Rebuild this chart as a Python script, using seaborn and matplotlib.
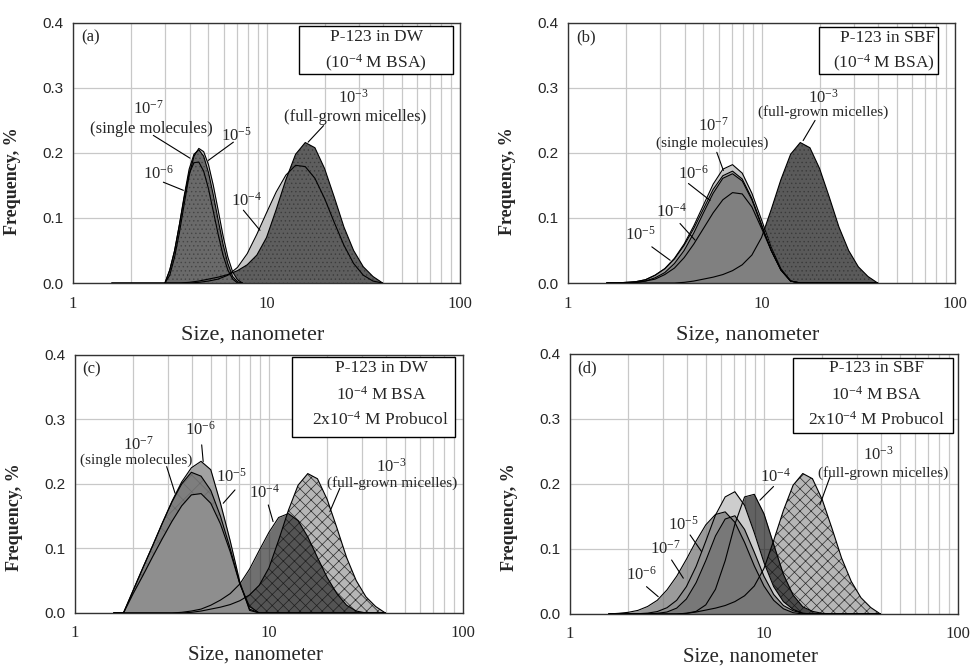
import numpy as np
import pandas as pd
import matplotlib
matplotlib.use("Agg")
import matplotlib.pyplot as plt
from matplotlib.patches import Rectangle
from matplotlib.ticker import FormatStrFormatter, LogLocator, NullFormatter
import seaborn as sns

# ---- size bins (nm) -------------------------------------------------------
sizes_fine = [2.985, 3.162, 3.350, 3.548, 3.758, 3.981, 4.217, 4.467, 4.732,
              5.012, 5.309, 5.623, 5.957, 6.310, 6.683, 7.079, 7.499]
sizes = [1.585, 1.778, 1.995, 2.239, 2.512, 2.818, 3.162, 3.548, 3.981, 4.467,
         5.012, 5.623, 6.310, 7.079, 7.943, 8.913, 10.00, 11.22, 12.59, 14.13,
         15.85, 17.78, 19.95, 22.39, 25.12, 28.18, 31.62, 35.48, 39.81]

# ---- frequency, % ---------------------------------------------------------
# 1e-3 M : full-grown micelles (same in every panel)
micelles_1e3 = [0, 0, 0, 0, 0, 0, 0, 0, 0.001, 0.003, 0.006, 0.009, 0.013, 0.019,
                0.028, 0.043, 0.070, 0.113, 0.159, 0.198, 0.216, 0.208, 0.176,
                0.132, 0.086, 0.050, 0.025, 0.010, 0]

# (a) P-123 in DW, 1e-4 M BSA
a_1e7 = [0, 0.020, 0.050, 0.090, 0.135, 0.175, 0.198, 0.205, 0.195, 0.170,
         0.135, 0.097, 0.060, 0.030, 0.010, 0.002, 0]
a_1e6 = [0, 0.020, 0.050, 0.090, 0.132, 0.168, 0.185, 0.186, 0.172, 0.145,
         0.110, 0.075, 0.043, 0.020, 0.006, 0, 0]
a_1e5 = [0, 0.012, 0.040, 0.078, 0.122, 0.165, 0.195, 0.207, 0.202, 0.182,
         0.150, 0.112, 0.073, 0.040, 0.017, 0.005, 0]
a_1e4 = [0, 0, 0, 0, 0, 0, 0, 0, 0, 0.001, 0.003, 0.006, 0.012, 0.024, 0.045,
         0.075, 0.108, 0.140, 0.166, 0.181, 0.179, 0.161, 0.130, 0.093, 0.058,
         0.030, 0.012, 0.003, 0]

# (b) P-123 in SBF, 1e-4 M BSA
b_1e7 = [0, 0, 0.001, 0.002, 0.005, 0.012, 0.022, 0.038, 0.060, 0.088, 0.120,
         0.152, 0.175, 0.182, 0.169, 0.138, 0.097, 0.055, 0.022, 0.003, 0,
         0, 0, 0, 0, 0, 0, 0, 0]
b_1e6 = [0, 0, 0, 0.001, 0.003, 0.008, 0.016, 0.030, 0.050, 0.077, 0.108,
         0.138, 0.161, 0.168, 0.157, 0.128, 0.088, 0.050, 0.020, 0.003, 0,
         0, 0, 0, 0, 0, 0, 0, 0]
b_1e5 = [0, 0, 0.001, 0.002, 0.005, 0.012, 0.022, 0.037, 0.058, 0.084, 0.114,
         0.144, 0.165, 0.172, 0.160, 0.130, 0.090, 0.050, 0.020, 0.003, 0,
         0, 0, 0, 0, 0, 0, 0, 0]
b_1e4 = [0, 0, 0.0005, 0.001, 0.003, 0.006, 0.013, 0.023, 0.039, 0.060, 0.084,
         0.108, 0.128, 0.139, 0.137, 0.117, 0.084, 0.050, 0.020, 0.003, 0,
         0, 0, 0, 0, 0, 0, 0, 0]

# (c) P-123 in DW, 1e-4 M BSA, 2x1e-4 M Probucol
c_1e7 = [0, 0, 0.035, 0.070, 0.104, 0.139, 0.172, 0.200, 0.218, 0.212, 0.190,
         0.150, 0.100, 0.045, 0.006, 0, 0, 0, 0, 0, 0, 0, 0, 0, 0, 0, 0, 0, 0]
c_1e6 = [0, 0, 0.035, 0.070, 0.104, 0.139, 0.173, 0.203, 0.225, 0.235, 0.222,
         0.170, 0.112, 0.048, 0.004, 0, 0, 0, 0, 0, 0, 0, 0, 0, 0, 0, 0, 0, 0]
c_1e5 = [0, 0, 0.030, 0.058, 0.087, 0.115, 0.142, 0.166, 0.183, 0.185, 0.170,
         0.138, 0.095, 0.045, 0.010, 0, 0, 0, 0, 0, 0, 0, 0, 0, 0, 0, 0, 0, 0]
c_1e4 = [0, 0, 0, 0, 0, 0, 0, 0.001, 0.003, 0.006, 0.012, 0.020, 0.030, 0.045,
         0.068, 0.097, 0.125, 0.148, 0.154, 0.143, 0.118, 0.086, 0.055, 0.030,
         0.012, 0.003, 0, 0, 0]

# (d) P-123 in SBF, 1e-4 M BSA, 2x1e-4 M Probucol
d_1e7 = [0, 0, 0, 0, 0.0002, 0.001, 0.003, 0.009, 0.023, 0.048, 0.082, 0.120,
         0.146, 0.151, 0.130, 0.095, 0.058, 0.030, 0.013, 0.005, 0.001,
         0, 0, 0, 0, 0, 0, 0, 0]
d_1e6 = [0, 0.001, 0.0025, 0.0055, 0.0115, 0.021, 0.037, 0.058, 0.084, 0.112,
         0.137, 0.153, 0.157, 0.141, 0.110, 0.074, 0.043, 0.021, 0.008, 0.002, 0,
         0, 0, 0, 0, 0, 0, 0, 0]
d_1e5 = [0, 0, 0.0001, 0.0004, 0.0013, 0.0037, 0.0096, 0.021, 0.042, 0.073,
         0.112, 0.152, 0.180, 0.188, 0.167, 0.125, 0.079, 0.042, 0.019, 0.007,
         0.001, 0, 0, 0, 0, 0, 0, 0, 0]
d_1e4 = [0, 0, 0, 0, 0, 0, 0, 0.0001, 0.001, 0.004, 0.014, 0.038, 0.082, 0.138,
         0.180, 0.184, 0.154, 0.107, 0.061, 0.029, 0.011, 0.004, 0.001,
         0, 0, 0, 0, 0, 0]

# ---- style ----------------------------------------------------------------
sns.set_style("white")
plt.rcParams['font.family'] = ['Liberation Serif', 'DejaVu Serif']
plt.rcParams['mathtext.fontset'] = 'custom'
plt.rcParams['mathtext.rm'] = 'Liberation Serif'
plt.rcParams['mathtext.it'] = 'Liberation Serif:italic'
plt.rcParams['mathtext.bf'] = 'Liberation Serif:bold'
plt.rcParams['hatch.linewidth'] = 0.5

SERIF = ['Liberation Serif', 'DejaVu Serif']
SANS = ['Liberation Sans', 'DejaVu Sans']


def draw_fill(ax, x, y, fc, hatch=None, alpha=1.0, hc='#3a3a3a'):
    ax.fill_between(x, 0, y, facecolor=fc, edgecolor=hc, linewidth=0,
                    hatch=hatch, alpha=alpha, zorder=2)


def draw_line(ax, x, y, color='black'):
    sns.lineplot(x=x, y=y, ax=ax, color=color, lw=0.8, sort=False,
                 estimator=None, zorder=3)


def style_axes(ax, label_y, xlabel_y, xlabel_size=16):
    ax.set_xscale('log')
    ax.set_xlim(1, 100)
    ax.set_ylim(0, 0.4)
    ax.set_yticks([0, 0.1, 0.2, 0.3, 0.4])
    ax.yaxis.set_major_formatter(FormatStrFormatter('%.1f'))
    ax.set_xticks([1, 10, 100])
    ax.set_xticklabels(['1', '10', '100'])
    ax.xaxis.set_minor_locator(LogLocator(base=10, subs=np.arange(2, 10)))
    ax.xaxis.set_minor_formatter(NullFormatter())
    ax.grid(True, which='both', axis='x', color='#c8c8c8', lw=0.9)
    ax.grid(True, which='major', axis='y', color='#c8c8c8', lw=0.9)
    ax.set_axisbelow(True)
    ax.tick_params(which='both', length=0)
    ax.tick_params(axis='x', pad=9)
    ax.tick_params(axis='y', pad=7)
    for lab in ax.get_xticklabels():
        lab.set_fontfamily(SERIF)
        lab.set_fontsize(12)
    for lab in ax.get_yticklabels():
        lab.set_fontfamily(SANS)
        lab.set_fontsize(11)
    for sp in ax.spines.values():
        sp.set_color('#333333')
        sp.set_linewidth(1.0)
        sp.set_visible(True)
    ax.set_xlabel('Size, nanometer', fontsize=xlabel_size, family=SERIF)
    ax.set_ylabel('Frequency, %', fontsize=13, fontweight='bold', family=SERIF)
    ax.xaxis.set_label_coords(0.465, xlabel_y)
    ax.yaxis.set_label_coords(-0.135, label_y)


def label(ax, x, y, s, size=12):
    ax.text(x, y, s, ha='center', va='center', fontsize=size, family=SERIF,
            zorder=5)


def pointer(ax, x0, y0, x1, y1):
    ax.plot([x0, x1], [y0, y1], color='black', lw=0.8, zorder=4)


def info_box(ax, x0, x1, y0, y1, lines, xs, ys, size=12.5):
    ax.add_patch(Rectangle((x0, y0), x1 - x0, y1 - y0, transform=ax.transAxes,
                           facecolor='white', edgecolor='black', lw=1.0,
                           zorder=6))
    for s, xx, yy in zip(lines, xs, ys):
        ax.text(xx, yy, s, transform=ax.transAxes, ha='center', va='center',
                fontsize=size, family=SERIF, zorder=7)


fig = plt.figure(figsize=(9.71, 6.67), dpi=100)
ax_a = fig.add_axes([0.0752, 0.5757, 0.3986, 0.390])
ax_b = fig.add_axes([0.5850, 0.5757, 0.3986, 0.390])
ax_c = fig.add_axes([0.0772, 0.0810, 0.3996, 0.387])
ax_d = fig.add_axes([0.5870, 0.0795, 0.3996, 0.390])

# ---- (a) ------------------------------------------------------------------
ax = ax_a
draw_fill(ax, sizes, a_1e4, '#c6c6c6')
draw_fill(ax, sizes, micelles_1e3, '#5e5e5e', hatch='....', hc='#3c3c3c')
draw_fill(ax, sizes_fine, a_1e5, '#c6c6c6')
draw_fill(ax, sizes_fine, a_1e7, '#6a6a6a', hatch='....', hc='#444444')
draw_fill(ax, sizes_fine, a_1e6, '#6a6a6a', hatch='....', hc='#444444')
for xs_, ys_ in [(sizes, a_1e4), (sizes, micelles_1e3), (sizes_fine, a_1e5),
                 (sizes_fine, a_1e7), (sizes_fine, a_1e6)]:
    draw_line(ax, xs_, ys_)
label(ax, 2.45, 0.268, '10$^{-7}$')
label(ax, 2.55, 0.237, '(single molecules)')
label(ax, 7.0, 0.227, '10$^{-5}$')
label(ax, 2.76, 0.168, '10$^{-6}$')
label(ax, 28.1, 0.2855, '10$^{-3}$')
label(ax, 28.7, 0.255, '(full-grown micelles)')
label(ax, 7.9, 0.127, '10$^{-4}$')
pointer(ax, 2.60, 0.227, 4.02, 0.192)
pointer(ax, 6.74, 0.2166, 5.0, 0.1885)
pointer(ax, 2.93, 0.155, 3.72, 0.1425)
pointer(ax, 19.7, 0.242, 16.4, 0.2166)
pointer(ax, 7.59, 0.112, 9.25, 0.081)
ax.text(0.02, 0.975, '(a)', transform=ax.transAxes, ha='left', va='top',
        fontsize=12, family=SERIF)
info_box(ax, 0.585, 0.981, 0.804, 0.988,
         ['P-123 in DW', '(10$^{-4}$ M BSA)'], [0.783, 0.783], [0.947, 0.845])
style_axes(ax, 0.39, -0.165)

# ---- (b) ------------------------------------------------------------------
ax = ax_b
draw_fill(ax, sizes, micelles_1e3, '#5a5a5a', hatch='....', hc='#3a3a3a')
draw_fill(ax, sizes, b_1e7, '#c6c6c6')
draw_fill(ax, sizes, b_1e5, '#9c9c9c')
draw_fill(ax, sizes, b_1e6, '#828282')
draw_fill(ax, sizes, b_1e4, '#808080')
for ys_ in [micelles_1e3, b_1e7, b_1e5, b_1e6, b_1e4]:
    draw_line(ax, sizes, ys_)
label(ax, 5.64, 0.242, '10$^{-7}$')
label(ax, 5.53, 0.215, '(single molecules)', size=11)
label(ax, 4.44, 0.168, '10$^{-6}$')
label(ax, 3.43, 0.109, '10$^{-4}$')
label(ax, 2.36, 0.0736, '10$^{-5}$')
label(ax, 20.9, 0.2855, '10$^{-3}$')
label(ax, 20.9, 0.2636, '(full-grown micelles)', size=11)
pointer(ax, 5.87, 0.201, 6.35, 0.173)
pointer(ax, 4.19, 0.153, 5.42, 0.127)
pointer(ax, 3.79, 0.0915, 4.53, 0.066)
pointer(ax, 2.71, 0.0556, 3.37, 0.035)
pointer(ax, 18.9, 0.250, 16.4, 0.219)
ax.text(0.02, 0.975, '(b)', transform=ax.transAxes, ha='left', va='top',
        fontsize=12, family=SERIF)
info_box(ax, 0.649, 0.957, 0.805, 0.986,
         ['P-123 in SBF', '(10$^{-4}$ M BSA)'], [0.825, 0.815], [0.940, 0.845])
style_axes(ax, 0.39, -0.165)

# ---- (c) ------------------------------------------------------------------
ax = ax_c
draw_fill(ax, sizes, micelles_1e3, '#b6b6b6', hatch='xxx', hc='#2a2a2a')
draw_fill(ax, sizes, c_1e4, '#181818', alpha=0.62)
draw_fill(ax, sizes, c_1e6, '#a2a2a2')
draw_fill(ax, sizes, c_1e7, '#7e7e7e', hatch='xx', hc='#6a6a6a')
draw_fill(ax, sizes, c_1e5, '#8e8e8e')
for ys_ in [micelles_1e3, c_1e4, c_1e6, c_1e7, c_1e5]:
    draw_line(ax, sizes, ys_)
label(ax, 4.41, 0.284, '10$^{-6}$')
label(ax, 2.12, 0.2605, '10$^{-7}$')
label(ax, 2.08, 0.236, '(single molecules)', size=11)
label(ax, 6.42, 0.211, '10$^{-5}$')
label(ax, 9.53, 0.1856, '10$^{-4}$')
label(ax, 42.9, 0.2268, '10$^{-3}$')
label(ax, 42.9, 0.202, '(full-grown micelles)', size=11)
pointer(ax, 4.50, 0.2605, 4.58, 0.2346)
pointer(ax, 2.97, 0.2268, 3.28, 0.1856)
pointer(ax, 6.68, 0.1907, 5.81, 0.170)
pointer(ax, 9.92, 0.1674, 10.5, 0.1416)
pointer(ax, 23.2, 0.1933, 20.6, 0.157)
ax.text(0.02, 0.975, '(c)', transform=ax.transAxes, ha='left', va='top',
        fontsize=12, family=SERIF)
info_box(ax, 0.5585, 0.979, 0.683, 0.993,
         ['P-123 in DW', '10$^{-4}$ M BSA', '2x10$^{-4}$ M Probucol'],
         [0.79, 0.79, 0.787], [0.948, 0.845, 0.748])
style_axes(ax, 0.372, -0.128, xlabel_size=15)

# ---- (d) ------------------------------------------------------------------
ax = ax_d
draw_fill(ax, sizes, micelles_1e3, '#b6b6b6', hatch='xxx', hc='#2a2a2a')
draw_fill(ax, sizes, d_1e4, '#181818', alpha=0.68)
draw_fill(ax, sizes, d_1e5, '#cdcdcd')
draw_fill(ax, sizes, d_1e6, '#7a7a7a', alpha=0.75)
draw_fill(ax, sizes, d_1e7, '#6a6a6a', alpha=0.6)
for ys_ in [micelles_1e3, d_1e4, d_1e5, d_1e6, d_1e7]:
    draw_line(ax, sizes, ys_)
label(ax, 38.8, 0.2446, '10$^{-3}$')
label(ax, 41.2, 0.2165, '(full-grown micelles)', size=11)
label(ax, 11.4, 0.211, '10$^{-4}$')
label(ax, 3.84, 0.137, '10$^{-5}$')
label(ax, 3.09, 0.101, '10$^{-7}$')
label(ax, 2.34, 0.060, '10$^{-6}$')
pointer(ax, 21.9, 0.211, 19.4, 0.1677)
pointer(ax, 11.2, 0.196, 9.53, 0.175)
pointer(ax, 4.16, 0.1215, 4.77, 0.0958)
pointer(ax, 3.34, 0.083, 3.84, 0.055)
pointer(ax, 2.48, 0.042, 2.85, 0.0266)
ax.text(0.02, 0.975, '(d)', transform=ax.transAxes, ha='left', va='top',
        fontsize=12, family=SERIF)
info_box(ax, 0.574, 0.986, 0.695, 0.983,
         ['P-123 in SBF', '10$^{-4}$ M BSA', '2x10$^{-4}$ M Probucol'],
         [0.79, 0.79, 0.79], [0.945, 0.842, 0.746])
style_axes(ax, 0.372, -0.128, xlabel_size=15)

fig.savefig('out.png', dpi=100)
